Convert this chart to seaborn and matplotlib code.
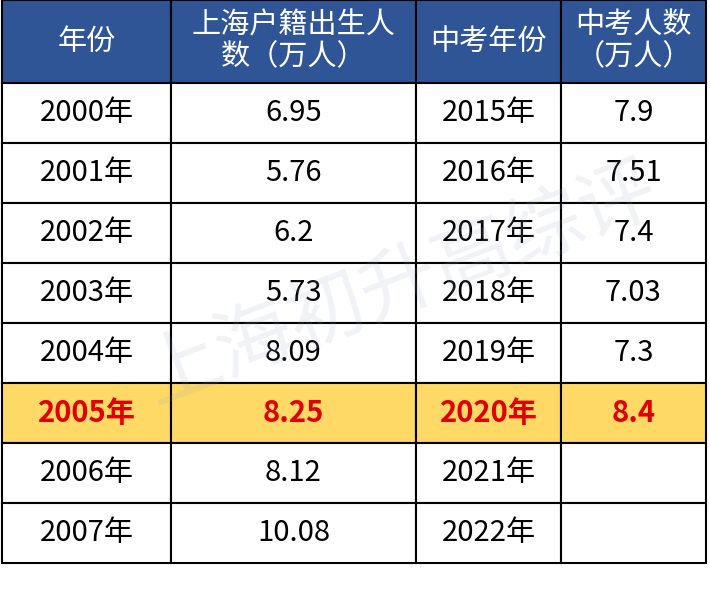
import matplotlib.pyplot as plt
import seaborn as sns
from matplotlib.patches import Rectangle

sns.set_theme(style="white")
plt.rcParams['font.family'] = ['Noto Sans CJK SC', 'DejaVu Sans']

headers = ["年份", "上海户籍出生人\n数（万人）", "中考年份", "中考人数\n（万人）"]
birth_years = ["2000年", "2001年", "2002年", "2003年", "2004年", "2005年", "2006年", "2007年"]
births = ["6.95", "5.76", "6.2", "5.73", "8.09", "8.25", "8.12", "10.08"]
exam_years = ["2015年", "2016年", "2017年", "2018年", "2019年", "2020年", "2021年", "2022年"]
exam_counts = ["7.9", "7.51", "7.4", "7.03", "7.3", "8.4", "", ""]
highlight_row = 5

col_edges = [2, 171, 416, 561, 706]
header_h = 83
row_h = 60

fig = plt.figure(figsize=(7.1, 5.9), dpi=100)
ax = fig.add_axes([0, 0, 1, 1])
ax.set_xlim(0, 710)
ax.set_ylim(590, 0)
ax.axis("off")

# watermark
ax.text(400, 285, "上海初升高综评", fontsize=56, rotation=21, color="#9AA6BC", alpha=0.15,
        ha="center", va="center", zorder=5)

# header
for i, h in enumerate(headers):
    x0, x1 = col_edges[i], col_edges[i + 1]
    ax.add_patch(Rectangle((x0, 0), x1 - x0, header_h, facecolor="#2F5597", edgecolor="black", lw=1.5))
    ax.text((x0 + x1) / 2, header_h / 2, h, color="white", fontsize=21, ha="center", va="center", linespacing=1.05)

columns = [birth_years, births, exam_years, exam_counts]
for r in range(len(birth_years)):
    y0 = header_h + r * row_h
    hl = r == highlight_row
    for c, col in enumerate(columns):
        x0, x1 = col_edges[c], col_edges[c + 1]
        ax.add_patch(Rectangle((x0, y0), x1 - x0, row_h,
                               facecolor="#FFD966" if hl else "white", edgecolor="black", lw=1.5))
        ax.text((x0 + x1) / 2, y0 + row_h / 2, col[r], fontsize=21, ha="center", va="center",
                color="#E00000" if hl else "black", fontweight="bold" if hl else "normal")

fig.savefig("out.png", dpi=100)
